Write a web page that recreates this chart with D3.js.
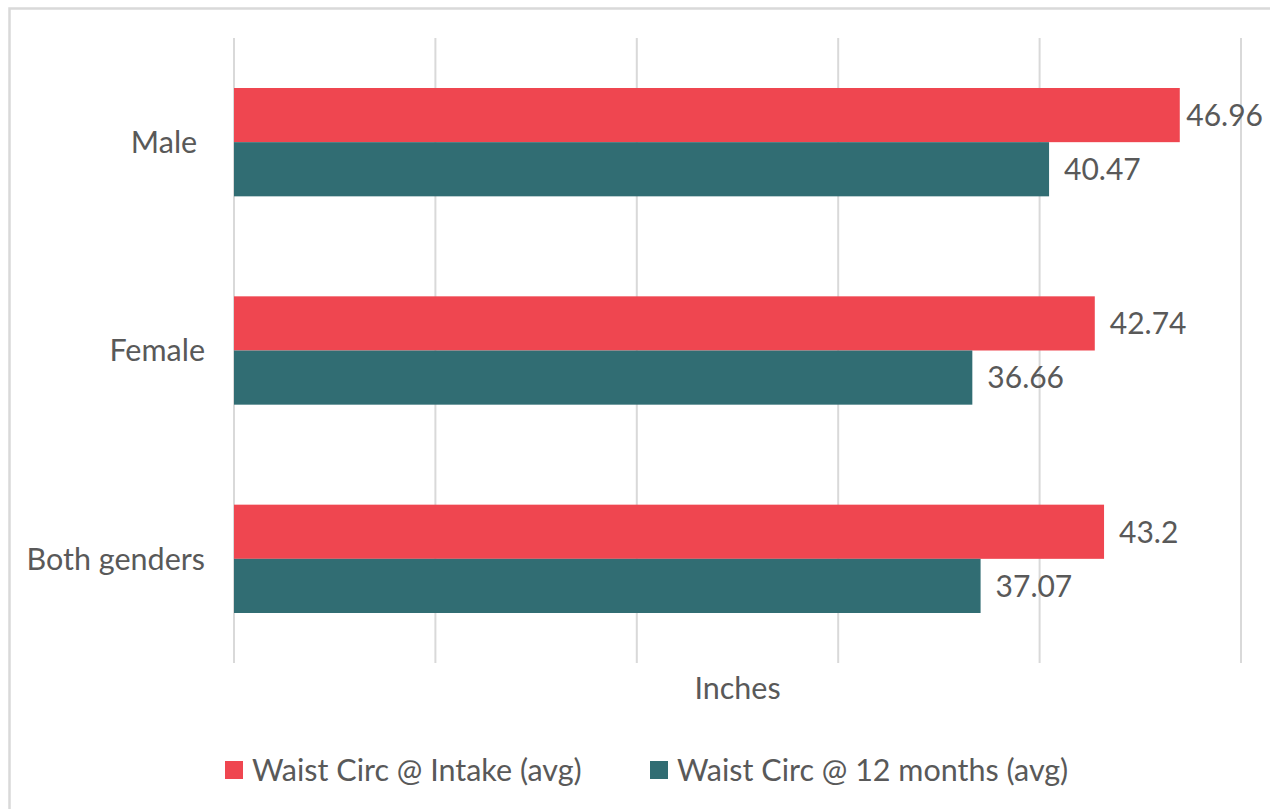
<!DOCTYPE html>
<html>
<head>
<meta charset="utf-8">
<script src="https://cdn.jsdelivr.net/npm/d3@7"></script>
<style>
  body { margin: 0; background: #fff; }
  svg { display: block; font-family: Lato, "Open Sans", sans-serif; }
  text { white-space: pre; }
</style>
</head>
<body>
<svg width="1270" height="809"></svg>
<script>
// data
var categories = ["Male ", "Female", "Both genders"];
var seriesNames = ["Waist Circ @ Intake (avg)", "Waist Circ @ 12 months (avg)"];
var intakeValues = [46.96, 42.74, 43.2];
var monthValues = [40.47, 36.66, 37.07];
var xTicks = [0, 10, 20, 30, 40, 50];
var colors = ["#ef4650", "#316d73"];

var svg = d3.select("svg");
var textColor = "#595959";

// chart border
svg.append("rect")
  .attr("x", 9.5).attr("y", 8.5)
  .attr("width", 1280).attr("height", 820)
  .attr("fill", "none")
  .attr("stroke", "#d9d9d9")
  .attr("stroke-width", 2.5);

var x = d3.scaleLinear().domain([0, 50]).range([234, 1241]);
var y = d3.scaleBand().domain(categories).range([38, 663])
  .paddingInner(0.48).paddingOuter(0.24);
var ySub = d3.scaleBand().domain([0, 1]).range([0, y.bandwidth()]);

// gridlines
svg.append("g").selectAll("line")
  .data(xTicks)
  .enter().append("line")
  .attr("x1", function(d) { return x(d); })
  .attr("x2", function(d) { return x(d); })
  .attr("y1", 38).attr("y2", 663)
  .attr("stroke", "#d9d9d9")
  .attr("stroke-width", 2);

// rows of bars
var rows = [];
categories.forEach(function(c, i) {
  rows.push({cat: c, s: 0, v: intakeValues[i]});
  rows.push({cat: c, s: 1, v: monthValues[i]});
});

svg.append("g").selectAll("rect")
  .data(rows)
  .enter().append("rect")
  .attr("x", x(0))
  .attr("y", function(d) { return y(d.cat) + ySub(d.s); })
  .attr("width", function(d) { return x(d.v) - x(0); })
  .attr("height", ySub.bandwidth())
  .attr("fill", function(d) { return colors[d.s]; });

// value labels
var labels = svg.append("g").selectAll("text")
  .data(rows)
  .enter().append("text")
  .attr("x", function(d) { return x(d.v) + 15; })
  .attr("y", function(d) { return y(d.cat) + ySub(d.s) + ySub.bandwidth() / 2; })
  .attr("dy", "0.36em")
  .attr("font-size", 30)
  .attr("fill", textColor)
  .text(function(d) { return d.v; });
// keep labels inside the chart
labels.each(function() {
  var w = this.getComputedTextLength();
  var lx = +d3.select(this).attr("x");
  if (lx + w > 1263) d3.select(this).attr("x", 1263 - w);
});

// category labels
svg.append("g").selectAll("text")
  .data(categories)
  .enter().append("text")
  .attr("x", 205)
  .attr("y", function(d) { return y(d) + y.bandwidth() / 2; })
  .attr("dy", "0.36em")
  .attr("text-anchor", "end")
  .attr("font-size", 30.5)
  .attr("fill", textColor)
  .text(function(d) { return d; });

// axis title
svg.append("text")
  .attr("x", (x(0) + x(50)) / 2)
  .attr("y", 699)
  .attr("text-anchor", "middle")
  .attr("font-size", 30.5)
  .attr("fill", textColor)
  .text("Inches");

// legend
var legendX = [225, 650];
var legend = svg.append("g").selectAll("g")
  .data(seriesNames)
  .enter().append("g")
  .attr("transform", function(d, i) { return "translate(" + legendX[i] + ",761)"; });
legend.append("rect")
  .attr("width", 18).attr("height", 18)
  .attr("fill", function(d, i) { return colors[i]; });
legend.append("text")
  .attr("x", 27).attr("y", 9)
  .attr("dy", "0.36em")
  .attr("font-size", 30.5)
  .attr("fill", textColor)
  .text(function(d) { return d; });
</script>
</body>
</html>
